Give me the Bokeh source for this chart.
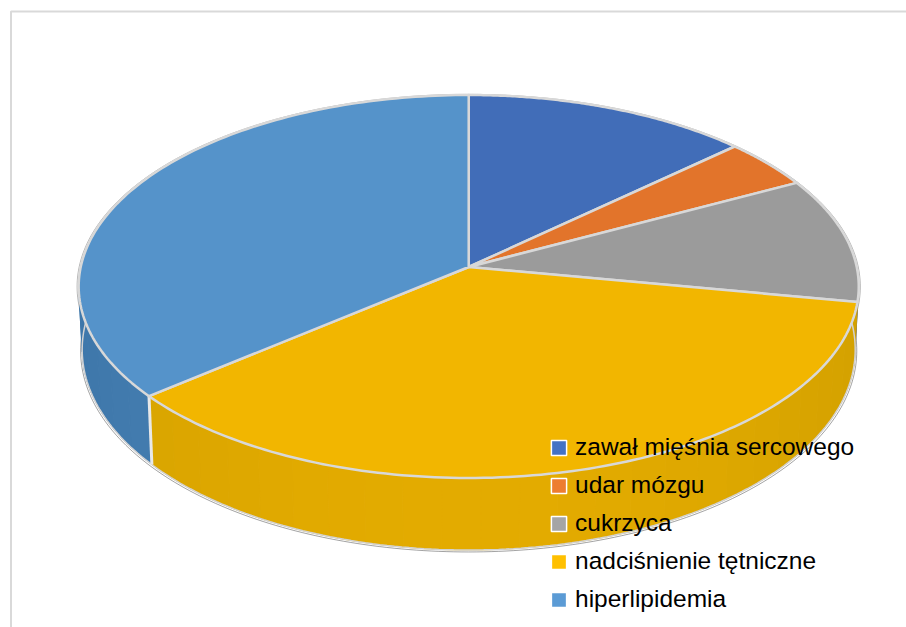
import numpy as np
from bokeh.plotting import figure
from bokeh.models import Range1d, Legend, LegendItem
from bokeh.embed import file_html
from bokeh.resources import INLINE

labels = ["zawał mięśnia sercowego", "udar mózgu", "cukrzyca", "nadciśnienie tętniczne", "hiperlipidemia"]
values = [13.1, 4.2, 10.6, 36.1, 36.0]
top_colors = ["#416db8", "#e2742b", "#9b9b9b", "#f2b600", "#5593ca"]
side_light = ["#3a62a8", "#c9662a", "#8a8a8a", "#e3ab00", "#4a82b6"]
side_dark = ["#335a9a", "#b85e26", "#7d7d7d", "#d3a100", "#3e77aa"]
key_colors = ["#4472c4", "#ed7d31", "#a5a5a5", "#ffc000", "#5b9bd5"]

# projected pie geometry, in page pixels
CX, CY, A, B, K = 468.2, 266.5, 388.0, 189.5, 0.1018


def project(deg, radius=1.0, drop=0.0):
    a = np.radians(deg)
    u, v = radius * np.sin(a), -radius * np.cos(a)
    w = 1 - K * v
    depth = (62 + 10 * v) * drop
    return CX + A * u / w * (1 - 0.009 * drop), CY + B * v / w + depth


def hex_mix(c1, c2, t):
    a = [int(c1[i:i + 2], 16) for i in (1, 3, 5)]
    b = [int(c2[i:i + 2], 16) for i in (1, 3, 5)]
    return "#%02x%02x%02x" % tuple(int(round(x + (y - x) * t)) for x, y in zip(a, b))


p = figure(width=906, height=627, x_range=Range1d(0, 906), y_range=Range1d(627, 0),
           output_backend="svg", toolbar_location=None, min_border=0,
           outline_line_color=None, background_fill_color="white", border_fill_color="white")
p.axis.visible = False
p.grid.visible = False

# chart-area border (top and left only are inside the picture)
p.line([10.5, 10.5, 906], [627, 11, 11], line_color="#d9d9d9", line_width=2)

edges = np.concatenate([[0], np.cumsum(values)]) / np.sum(values) * 360

# soft dark hairline round the whole disc
rim = np.linspace(0, 360, 361)
ox, oy = project(rim, 1.004)
p.line(ox, oy, line_color="#444444", line_width=1, line_alpha=0.4)
lo = np.linspace(80, 280, 201)
ox, oy = project(lo, 1.004, 1.0)
p.line(ox, oy + 1, line_color="#333333", line_width=1, line_alpha=0.45)

# side wall, in narrow vertical bands
for i in range(len(values)):
    a0, a1 = max(edges[i], 80), min(edges[i + 1], 280)
    if a1 <= a0:
        continue
    n = max(2, int((a1 - a0) / 5))
    st = np.linspace(a0, a1, n + 1)
    xs, ys, cs = [], [], []
    for s0, s1 in zip(st[:-1], st[1:]):
        seg = np.linspace(s0, s1, 6)
        tx, ty = project(seg)
        bx, by = project(seg[::-1], 1.0, 1.0)
        xs.append(np.concatenate([tx, bx]))
        ys.append(np.concatenate([ty, by]))
        t = abs(np.sin(np.radians((s0 + s1) / 2)))
        cs.append(hex_mix(side_light[i], side_dark[i], t ** 2))
    p.patches(xs, ys, fill_color=cs, line_color=cs, line_width=1)

lx, ly = project(lo, 1.0, 1.0)
p.line(lx, ly, line_color="#d2d2d2", line_width=1.5)

# white seam between the two visible wall pieces
sx0, sy0 = project(edges[4])
sx1, sy1 = project(edges[4], 1.0, 1.0)
p.line([sx0, sx1], [sy0, sy1], line_color="#e8e8e8", line_width=3)

# top face
for i in range(len(values)):
    seg = np.linspace(edges[i], edges[i + 1], 120)
    tx, ty = project(seg)
    p.patch(np.concatenate([[CX], tx]), np.concatenate([[CY], ty]),
            fill_color=top_colors[i], line_color="#d8d8d8", line_width=2.5, line_join="round")

# legend (keys come from NaN-positioned quads, so only the key swatches show)
items = []
for i, lab in enumerate(labels):
    r = p.quad(left=[np.nan], right=[np.nan], top=[np.nan], bottom=[np.nan],
               fill_color=key_colors[i], line_color="white", line_width=1.5)
    items.append(LegendItem(label=lab, renderers=[r]))
legend = Legend(items=items, location=(549, 14), orientation="vertical", background_fill_alpha=0,
                border_line_color=None, glyph_width=19, glyph_height=19, label_standoff=7,
                label_text_font="Liberation Sans", label_text_font_size="24.5px", label_text_color="#000000",
                label_height=15, spacing=10, padding=0, margin=0)
p.add_layout(legend, "center")

open("out.html", "w").write(file_html(p, INLINE))
